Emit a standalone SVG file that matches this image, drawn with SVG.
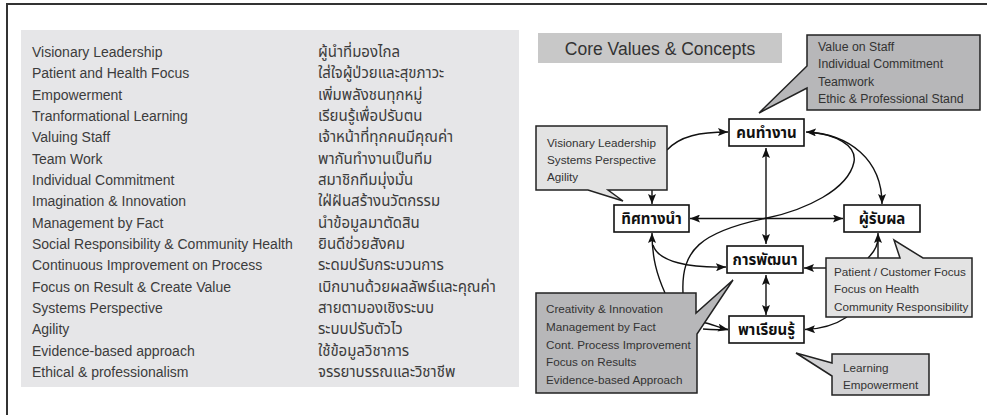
<svg xmlns="http://www.w3.org/2000/svg" width="987" height="415" viewBox="0 0 987 415">
<defs>
<style>
.en{font-family:"Liberation Sans",Arial,sans-serif;font-size:14px;fill:#3c3c3c}
.th{font-family:"Noto Sans Thai","Loma","Garuda","Tlwg Typo","DejaVu Sans",sans-serif;font-size:15px;fill:#3c3c3c}
.cl{font-family:"Liberation Sans",Arial,sans-serif;font-size:11.7px;fill:#333}
.cl2{font-family:"Liberation Sans",Arial,sans-serif;font-size:12.3px;fill:#333}
.nd{fill:#fff;stroke:#111;stroke-width:1.6}
.nt{font-family:"Noto Sans Thai","Loma","Garuda","DejaVu Sans",sans-serif;font-size:15px;font-weight:bold;fill:#111;text-anchor:middle}
.c{fill:none;stroke:#111;stroke-width:1.4}
.light{fill:#e3e3e3;stroke:#222;stroke-width:1.5}
.dark{fill:#b7b7b9;stroke:#222;stroke-width:1.5}
.mid{fill:#d2d2d4;stroke:#222;stroke-width:1.5}
</style>
<marker id="ah" viewBox="0 0 10 8" refX="10" refY="4" markerWidth="10" markerHeight="8" markerUnits="userSpaceOnUse" orient="auto-start-reverse">
<path d="M0,0 L10,4 L0,8 L2,4 z" fill="#111"/>
</marker>
</defs>
<rect width="987" height="415" fill="#fff"/>
<path d="M7,415 V4 H987" fill="none" stroke="#333" stroke-width="2"/>

<g id="legend-panel">
<rect x="21" y="30" width="498" height="357" fill="#e6e6e8"/>
<g class="en">
<text x="32" y="57">Visionary Leadership</text>
<text x="32" y="78.3">Patient and Health Focus</text>
<text x="32" y="99.7">Empowerment</text>
<text x="32" y="121">Tranformational Learning</text>
<text x="32" y="142.3">Valuing Staff</text>
<text x="32" y="163.7">Team Work</text>
<text x="32" y="185">Individual Commitment</text>
<text x="32" y="206.3">Imagination &amp; Innovation</text>
<text x="32" y="227.7">Management by Fact</text>
<text x="32" y="249">Social Responsibility &amp; Community Health</text>
<text x="32" y="270.3">Continuous Improvement on Process</text>
<text x="32" y="291.7">Focus on Result &amp; Create Value</text>
<text x="32" y="313">Systems Perspective</text>
<text x="32" y="334.3">Agility</text>
<text x="32" y="355.7">Evidence-based approach</text>
<text x="32" y="377">Ethical &amp; professionalism</text>
</g>
<g class="th">
<text x="318" y="57">ผู้นำที่มองไกล</text>
<text x="318" y="78.3">ใส่ใจผู้ป่วยและสุขภาวะ</text>
<text x="318" y="99.7">เพิ่มพลังชนทุกหมู่</text>
<text x="318" y="121">เรียนรู้เพื่อปรับตน</text>
<text x="318" y="142.3">เจ้าหน้าที่ทุกคนมีคุณค่า</text>
<text x="318" y="163.7">พากันทำงานเป็นทีม</text>
<text x="318" y="185">สมาชิกทีมมุ่งมั่น</text>
<text x="318" y="206.3">ใฝ่ฝันสร้างนวัตกรรม</text>
<text x="318" y="227.7">นำข้อมูลมาตัดสิน</text>
<text x="318" y="249">ยินดีช่วยสังคม</text>
<text x="318" y="270.3">ระดมปรับกระบวนการ</text>
<text x="318" y="291.7">เบิกบานด้วยผลลัพธ์และคุณค่า</text>
<text x="318" y="313">สายตามองเชิงระบบ</text>
<text x="318" y="334.3">ระบบปรับตัวไว</text>
<text x="318" y="355.7">ใช้ข้อมูลวิชาการ</text>
<text x="318" y="377">จรรยาบรรณและวิชาชีพ</text>
</g>
</g>

<g id="title">
<rect x="538" y="33" width="244" height="30" fill="#c8c8c8"/>
<text x="660" y="55" text-anchor="middle" style="font-family:'Liberation Sans',Arial,sans-serif;font-size:17.5px;fill:#333">Core Values &amp; Concepts</text>
</g>

<g id="connectors">
<path class="c" d="M766,148 V244" marker-start="url(#ah)" marker-end="url(#ah)"/>
<path class="c" d="M690,218.5 H843" marker-start="url(#ah)" marker-end="url(#ah)"/>
<path class="c" d="M766,275 V315" marker-start="url(#ah)" marker-end="url(#ah)"/>
<path class="c" d="M667,150 C680,136 700,132 728,132" marker-end="url(#ah)"/>
<path class="c" d="M652,190 V204" marker-end="url(#ah)"/>
<path class="c" d="M806,132 C850,134 882,160 882,204" marker-start="url(#ah)" marker-end="url(#ah)"/>
<path class="c" d="M683,293 C681,250 700,232 767,218 C805,210 848,190 854,162 C857,145 835,134 808,132"/>
<path class="c" d="M665,293 C657,275 652,258 652,233" marker-end="url(#ah)"/>
<path class="c" d="M653,245 C658,262 690,268 726,267" marker-end="url(#ah)"/>
<path class="c" d="M702,322 C712,324 720,328 728,329.5" marker-end="url(#ah)"/>
<path class="c" d="M703,329 C712,330 720,330 728,329.5"/>
<path class="c" d="M826,268 H804" marker-end="url(#ah)"/>
<path class="c" d="M847,317 C835,325 822,329 805,329.5" marker-end="url(#ah)"/>
<path class="c" d="M878,258 V233" marker-end="url(#ah)"/>
<path class="c" d="M868,258 C874,252 878,245 878,238"/>
</g>

<g id="node-khontamngan">
<rect class="nd" x="729" y="119" width="75" height="27"/>
<text class="nt" x="766.5" y="138">คนทำงาน</text>
</g>
<g id="node-thitthangnam">
<rect class="nd" x="614" y="205" width="75" height="27"/>
<text class="nt" x="651.5" y="224">ทิศทางนำ</text>
</g>
<g id="node-phurappon">
<rect class="nd" x="844" y="205" width="76" height="27"/>
<text class="nt" x="882" y="224">ผู้รับผล</text>
</g>
<g id="node-kanphatthana">
<rect class="nd" x="727" y="246" width="76" height="27"/>
<text class="nt" x="765" y="265">การพัฒนา</text>
</g>
<g id="node-phariannru">
<rect class="nd" x="729" y="316" width="75" height="27"/>
<text class="nt" x="766.5" y="335">พาเรียนรู้</text>
</g>

<g id="callout-staff">
<path class="dark" d="M807,35 H980 V110 H807 V88 L759,113 L807,66 Z"/>
<g class="cl2">
<text x="818" y="50.5">Value on Staff</text>
<text x="818" y="68">Individual Commitment</text>
<text x="818" y="85.5">Teamwork</text>
<text x="818" y="103">Ethic &amp; Professional Stand</text>
</g>
</g>
<g id="callout-leadership">
<path class="light" d="M536,126 H667 V190 H608 L623,201 L588,190 H536 Z"/>
<g class="cl">
<text x="547" y="147">Visionary Leadership</text>
<text x="547" y="164">Systems Perspective</text>
<text x="547" y="181">Agility</text>
</g>
</g>
<g id="callout-patient">
<path class="light" d="M826,258 H900 L894,240 L923,258 H972 V317 H826 Z"/>
<g class="cl">
<text x="834" y="275.5">Patient / Customer Focus</text>
<text x="834" y="293">Focus on Health</text>
<text x="834" y="310.5">Community Responsibility</text>
</g>
</g>
<g id="callout-creativity">
<path class="dark" d="M536,293 H696 V313 L733,280 L697,334 V393 H536 Z"/>
<g class="cl">
<text x="546" y="313">Creativity &amp; Innovation</text>
<text x="546" y="331">Management by Fact</text>
<text x="546" y="348.5">Cont. Process Improvement</text>
<text x="546" y="366">Focus on Results</text>
<text x="546" y="384">Evidence-based Approach</text>
</g>
</g>
<g id="callout-learning">
<path class="mid" d="M832,354 H929 V395 H832 V376 L796,353 L832,363 Z"/>
<g class="cl">
<text x="843" y="371.5">Learning</text>
<text x="843" y="389">Empowerment</text>
</g>
</g>
</svg>
